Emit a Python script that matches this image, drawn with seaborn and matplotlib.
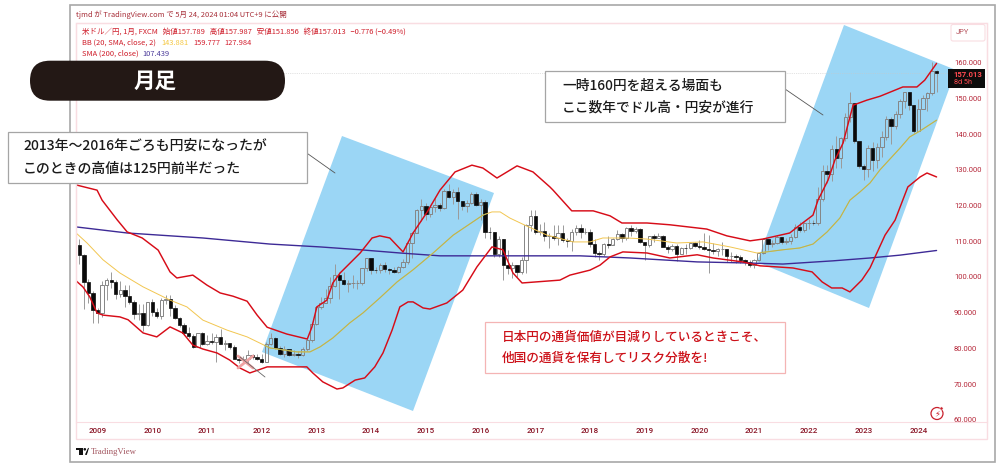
import numpy as np
import pandas as pd
import seaborn as sns
import matplotlib
matplotlib.use("Agg")
import matplotlib.pyplot as plt
from matplotlib.patches import Polygon, Rectangle, FancyBboxPatch, Circle
from matplotlib.lines import Line2D
from matplotlib.transforms import Affine2D

# ---- monthly USD/JPY candles, Sep 2008 - May 2024 ----
first_open = 108.8
closes = [106.0, 98.5, 95.5, 90.6,
          89.9, 97.6, 99.1, 98.6, 95.3, 96.3, 94.7, 93.0, 89.7, 90.0, 86.4, 93.0,
          90.3, 89.0, 93.4, 93.9, 91.2, 88.4, 86.4, 84.2, 83.5, 80.4, 84.3, 81.1,
          82.0, 81.8, 83.1, 81.2, 81.5, 80.5, 77.0, 76.6, 77.0, 78.0, 77.6, 76.9,
          76.3, 81.2, 82.9, 80.0, 78.3, 79.8, 78.1, 78.4, 78.0, 79.8, 82.4, 86.7,
          91.7, 92.6, 94.2, 97.4, 100.5, 99.1, 97.9, 98.2, 98.3, 98.4, 102.4, 105.3,
          102.0, 101.8, 103.2, 102.2, 101.8, 101.3, 102.8, 104.1, 109.6, 112.3, 118.6, 119.8,
          117.5, 119.6, 120.1, 119.4, 124.1, 122.5, 123.9, 121.2, 119.9, 120.6, 123.1, 120.2,
          121.1, 112.7, 112.6, 106.4, 110.7, 103.2, 102.4, 103.4, 101.3, 104.8, 114.5, 117.0,
          112.7, 112.8, 111.4, 111.5, 110.8, 112.4, 110.3, 110.0, 112.5, 113.6, 112.5, 112.7,
          109.2, 106.7, 106.3, 109.3, 108.8, 110.7, 111.9, 111.0, 113.7, 112.9, 113.5, 109.7,
          108.9, 111.4, 110.8, 111.4, 108.3, 107.9, 108.7, 106.3, 108.1, 108.0, 109.5, 108.6,
          108.4, 107.9, 107.5, 107.2, 107.8, 107.9, 105.9, 105.9, 105.5, 104.7, 104.3, 103.3,
          104.7, 106.6, 110.7, 109.3, 109.6, 111.1, 109.7, 110.0, 111.3, 114.0, 113.2, 115.1,
          115.1, 115.0, 121.7, 129.7, 128.7, 135.7, 133.3, 139.0, 144.7, 148.7, 138.0, 131.1,
          130.1, 136.2, 132.8, 136.3, 139.3, 144.3, 142.3, 145.5, 149.4, 151.7, 148.2, 141.0,
          146.9, 150.0, 151.4, 157.8, 157.013]
highs = [110.6, 106.3, 99.5, 96.0,
         91.3, 98.9, 99.8, 101.4, 99.0, 98.9, 97.8, 97.8, 93.4, 92.3, 92.5, 93.1,
         93.8, 91.2, 94.0, 94.8, 94.9, 92.2, 88.9, 87.2, 85.9, 84.0, 84.4, 84.5,
         83.7, 84.2, 83.9, 85.5, 82.2, 81.5, 81.0, 77.9, 77.9, 79.5, 78.3, 78.3,
         78.3, 81.7, 84.2, 83.3, 80.6, 80.6, 79.9, 79.6, 79.2, 80.4, 82.8, 86.6,
         91.8, 94.5, 96.7, 99.9, 103.7, 101.5, 101.5, 99.1, 100.6, 99.0, 102.6, 105.4,
         105.4, 102.7, 103.8, 104.1, 102.4, 102.8, 103.1, 104.9, 109.9, 112.5, 118.9, 121.8,
         120.8, 119.9, 122.0, 120.8, 124.5, 125.9, 124.6, 125.3, 121.3, 121.5, 123.8, 123.7,
         121.7, 121.5, 114.0, 112.0, 111.5, 110.2, 107.5, 104.3, 102.8, 105.5, 114.8, 118.7,
         118.6, 114.9, 115.5, 112.2, 114.4, 114.5, 114.5, 111.0, 113.3, 114.4, 114.7, 113.8,
         113.4, 110.5, 107.3, 109.6, 111.4, 110.9, 113.2, 112.2, 114.0, 114.6, 114.0, 113.7,
         109.9, 111.5, 112.1, 112.4, 111.7, 108.8, 109.3, 109.3, 108.5, 109.3, 109.7, 109.7,
         110.3, 112.2, 111.7, 109.4, 108.1, 109.9, 107.8, 107.0, 106.5, 106.1, 105.0, 104.8,
         105.0, 106.7, 110.9, 110.0, 110.2, 111.7, 110.6, 110.8, 112.1, 114.7, 115.5, 115.3,
         116.3, 115.8, 125.1, 131.3, 131.3, 137.0, 139.4, 139.1, 145.9, 151.9, 148.8, 138.2,
         131.6, 136.9, 137.9, 137.6, 140.9, 145.1, 144.9, 146.6, 149.7, 151.7, 151.9, 148.0,
         149.7, 150.9, 151.9, 160.2, 157.987]
lows = [103.5, 90.9, 92.6, 87.1,
        87.1, 88.9, 93.5, 96.9, 93.9, 94.4, 91.7, 92.5, 88.2, 88.0, 84.8, 86.3,
        89.1, 88.5, 88.1, 92.4, 89.1, 88.1, 85.9, 83.6, 82.9, 80.2, 80.3, 80.9,
        81.0, 81.1, 76.3, 81.2, 79.6, 79.7, 76.9, 75.9, 75.6, 75.7, 76.9, 76.8,
        75.9, 76.1, 80.9, 79.7, 78.0, 77.7, 77.9, 77.9, 77.4, 77.9, 79.3, 81.7,
        86.5, 91.0, 92.6, 92.6, 97.1, 93.8, 97.6, 95.8, 96.9, 96.6, 97.6, 101.6,
        100.7, 101.1, 101.1, 101.3, 100.8, 101.1, 101.1, 102.4, 103.7, 105.2, 112.6, 115.6,
        115.9, 116.9, 118.3, 118.5, 118.9, 122.0, 120.4, 116.2, 118.6, 118.1, 120.3, 119.9,
        115.9, 110.9, 110.7, 105.6, 105.5, 99.0, 100.7, 99.6, 100.1, 100.9, 101.2, 112.9,
        112.1, 111.7, 110.1, 108.1, 110.2, 108.8, 109.9, 108.3, 107.3, 111.6, 110.8, 111.9,
        108.4, 105.6, 104.6, 105.9, 108.1, 109.2, 110.3, 109.8, 110.4, 111.4, 112.3, 109.6,
        104.7, 108.5, 109.7, 110.8, 108.3, 106.8, 107.2, 104.4, 106.5, 106.5, 107.9, 108.4,
        107.7, 107.5, 101.2, 106.4, 105.9, 106.1, 104.2, 104.2, 104.0, 104.0, 103.2, 102.9,
        102.6, 104.4, 106.4, 107.5, 108.5, 109.2, 109.1, 109.1, 109.1, 110.8, 112.5, 112.6,
        113.5, 114.4, 114.6, 121.3, 126.4, 126.9, 130.4, 130.4, 138.0, 143.5, 137.5, 130.6,
        127.2, 128.1, 129.6, 130.6, 133.5, 138.4, 137.2, 141.5, 144.4, 147.3, 146.7, 140.2,
        140.8, 146.9, 146.5, 151.0, 151.856]

# ---- indicator lines (month index, price) ----
upper_m = [-0.5, 3.9, 5.0, 8.3, 10.5, 13.8, 17.3, 19.9, 21.4, 24.9, 28.0, 30.9, 33.7, 36.8, 39.0, 41.2, 45.5,
           50.0, 51.0, 52.1, 54.3, 55.6, 57.2, 61.6, 64.2, 65.9, 68.1, 71.0, 73.2, 76.3, 79.1, 82.4, 86.1,
           88.5, 91.6, 96.0, 99.5, 103.2, 103.9, 108.0, 112.7, 116.4, 119.0, 124.5, 129.5, 137.6, 142.0, 147.1,
           149.9, 155.8, 158.0, 160.9, 162.0, 164.2, 165.7, 167.5, 169.0, 169.7, 172.7, 175.6, 180.6, 183.7,
           185.4, 187.0, 188.0]
upper_v = [125.7, 124.3, 121.5, 116.0, 112.6, 110.9, 107.5, 101.4, 99.7, 100.5, 97.7, 95.5, 94.6, 93.2, 89.3, 85.9, 84.0,
           82.6, 85.9, 91.6, 93.5, 98.3, 101.1, 106.7, 110.9, 111.5, 110.9, 107.0, 112.3, 118.2, 124.3, 129.4, 131.3,
           130.5, 127.7, 131.1, 129.4, 125.2, 124.3, 118.5, 118.5, 117.1, 115.1, 115.1, 114.6, 113.4, 111.5, 110.1,
           110.6, 112.3, 114.5, 117.3, 121.5, 127.1, 132.7, 137.5, 144.8, 148.1, 149.5, 150.6, 153.2, 153.2,
           155.1, 158.0, 159.8]
lower_m = [-0.7, 0.8, 2.3, 3.9, 5.2, 8.9, 10.7, 14.0, 17.0, 19.9, 22.7, 24.9, 27.1, 30.2, 33.0, 35.2, 37.4, 41.2, 44.7,
           49.9, 51.2, 53.4, 56.5, 57.8, 60.5, 62.6, 64.8, 66.6, 68.6, 70.3, 72.1, 73.2, 75.4, 76.9, 80.6, 84.1,
           87.2, 90.5, 92.9, 95.1, 97.1, 105.4, 107.6, 112.0, 114.2, 116.4, 119.2, 124.5, 129.5, 135.5, 139.0,
           145.5, 149.3, 153.0, 156.5, 160.7, 162.9, 165.0, 167.3, 169.0, 171.6, 173.4, 176.7, 178.9, 181.7,
           184.4, 185.9, 188.0]
lower_v = [98.9, 97.2, 94.4, 89.9, 89.3, 88.8, 88.0, 84.3, 83.2, 86.0, 84.3, 80.9, 79.8, 78.7, 76.7, 74.5, 73.1, 74.8, 74.8,
           74.8, 73.1, 70.6, 68.6, 68.9, 71.1, 71.7, 74.8, 78.7, 85.1, 91.6, 93.0, 93.0, 91.3, 91.0, 92.7, 96.3,
           102.8, 108.4, 107.6, 101.1, 98.3, 99.1, 100.5, 101.9, 103.3, 105.6, 107.0, 106.7, 105.3, 106.2, 105.3,
           104.2, 103.1, 102.8, 102.5, 101.4, 98.6, 96.9, 96.9, 95.8, 99.1, 102.5, 111.7, 115.9, 125.2,
           128.0, 129.1, 128.0]
basis_m = [-0.7, 1.7, 5.2, 8.9, 14.0, 19.9, 23.6, 27.1, 32.4, 36.8, 41.8, 47.7, 50.6, 52.8, 55.6, 59.3, 62.2, 65.9,
           69.7, 73.2, 77.6, 82.0, 88.5, 90.5, 92.3, 94.4, 98.2, 102.6, 108.3, 112.0, 114.8, 120.1, 124.5, 131.0,
           136.8, 142.7, 148.6, 150.7, 154.3, 158.0, 160.9, 164.0, 166.8, 169.0, 171.2, 173.4, 175.6, 180.0,
           182.1, 184.4, 188.0]
basis_v = [112.3, 109.5, 104.8, 101.1, 97.2, 93.5, 91.6, 87.9, 85.1, 83.2, 80.1, 79.0, 79.0, 80.4, 82.9, 87.1, 89.9, 94.1,
           98.6, 102.0, 106.7, 111.7, 117.3, 118.2, 118.2, 116.5, 114.2, 111.7, 109.8, 109.8, 110.9, 110.9, 110.6, 109.5,
           109.8, 108.4, 106.7, 107.0, 107.6, 108.1, 109.2, 112.6, 116.5, 121.5, 123.8, 126.3, 130.0, 136.1,
           139.2, 140.9, 143.9]
sma200_m = [-0.7, 10.5, 27.1, 41.8, 52.8, 61.6, 70.3, 79.1, 109.8, 120.8, 135.5, 146.4, 154.3, 165.3, 173.4, 180.0, 188.0]
sma200_v = [114.0, 112.3, 110.9, 109.2, 108.4, 107.6, 106.7, 105.9, 105.9, 105.3, 104.2, 103.9, 103.6, 104.5, 105.3, 106.1, 107.4]

year_ticks = [4, 16, 28, 40, 52, 64, 76, 88, 100, 112, 124, 136, 148, 160, 172, 184]
year_labels = [str(y) for y in range(2009, 2025)]
price_ticks = list(range(60, 170, 10))
price_labels = [f"{p}.000" for p in price_ticks]

title_pill = "月足"
header_line = "tjmd が TradingView.com で 5月 24, 2024 01:04 UTC+9 に公開"
ohlc_line = "米ドル／円, 1月, FXCM   始値157.789   高値157.987   安値151.856   終値157.013   −0.776 (−0.49%)"
note_left = ["2013年～2016年ごろも円安になったが", "このときの高値は125円前半だった"]
note_right = ["一時160円を超える場面も", "ここ数年でドル高・円安が進行"]
note_red = ["日本円の通貨価値が目減りしているときこそ、", "他国の通貨を保有してリスク分散を!"]

sns.set_theme(style="white")
plt.rcParams['font.family'] = ['Noto Sans CJK JP', 'DejaVu Sans']

fig = plt.figure(figsize=(10, 4.68), dpi=100, facecolor="white")
W, H = 1000, 468
ax = fig.add_axes([76 / W, 1 - 422 / H, (987 - 76) / W, (422 - 22.7) / H], facecolor="none")
ax.set_xlim(-0.72, 199.06)
ax.set_ylim(59.36, 171.2)
px = Affine2D().scale(1 / W, -1 / H).translate(0, 1) + fig.transFigure

# frames
PINK = "#f9dde2"
fig.add_artist(Rectangle((70, 5), 925, 456.5, transform=px, fc="none", ec="#a8a8a8", lw=1.2))
fig.add_artist(Rectangle((76, 22.7), 911, 416.3, transform=px, fc="none", ec=PINK, lw=1))
for s in ax.spines.values():
    s.set_color(PINK)
    s.set_linewidth(0.8)

# blue zones
zones = []
for pts in ([(342, 136), (494, 193), (413, 411), (262, 352)],
            [(844, 25), (956, 70), (869, 308), (757, 262)]):
    p = Polygon(pts, closed=True, transform=px, fc="#9bd6f5", ec="none", zorder=1, clip_on=False)
    ax.add_patch(p)
    zones.append(p)

# candles
x = np.arange(len(closes))
c = np.array(closes)
o = np.array([first_open] + closes[:-1])
h = np.array(highs)
l = np.array(lows)
top, bot = np.maximum(o, c), np.minimum(o, c)
up = c >= o
ax.vlines(x, top, h, color="#9a9a9a", lw=0.7, zorder=3)
ax.vlines(x, l, bot, color="#9a9a9a", lw=0.7, zorder=3)
ax.bar(x[up], (top - bot)[up], bottom=bot[up], width=0.74, fc="#ffffff00", ec="#858585", lw=0.7, zorder=3)
ax.bar(x[~up], (top - bot)[~up], bottom=bot[~up], width=0.74, fc="#0a0a0a", ec="#0a0a0a", lw=0.5, zorder=3)

# last-price dotted line
ax.hlines(157.013, -0.7, 190.5, color="#c8c8c8", lw=0.5, ls=":", zorder=2)

# indicator lines via seaborn
def draw(mx, vy, color, lw, z):
    df = pd.DataFrame({"m": mx, "v": vy})
    sns.lineplot(data=df, x="m", y="v", color=color, lw=lw, ax=ax, sort=False,
                 estimator=None, legend=False, zorder=z)
    return ax.lines[-1]

draw(sma200_m, sma200_v, "#3d2a96", 1.0, 4)
draw(basis_m, basis_v, "#f2c650", 0.7, 4)
for zone in zones:
    ln = draw(basis_m, basis_v, "#b5b455", 0.75, 4.1)
    ln.set_clip_path(zone)
draw(upper_m, upper_v, "#d70c18", 1.05, 5)
draw(lower_m, lower_v, "#d70c18", 1.05, 5)

# axes ticks
ax.set_xlabel("")
ax.set_ylabel("")
ax.yaxis.tick_right()
ax.set_yticks(price_ticks)
ax.set_yticklabels(price_labels, fontsize=5.5, color="#b52638", family="Roboto")
ax.set_xticks(year_ticks)
ax.set_xticklabels(year_labels, fontsize=5.8, color="#8a1526", family="Roboto", fontweight="medium")
ax.tick_params(axis="y", length=0, pad=-23.8, labelright=True)
ax.tick_params(axis="x", length=0, pad=4.5)
for tl in ax.get_yticklabels():
    tl.set_clip_box(ax.bbox)
    tl.set_clip_on(True)

# X mark and dark trend stroke
for seg in ([(238, 356), (253, 368)], [(238, 368), (253, 356)]):
    fig.add_artist(Line2D(*zip(*seg), transform=px, color="#f0a3a3", lw=2.0, zorder=6))
fig.add_artist(Line2D([240, 265], [357, 377], transform=px, color="#666666", lw=0.6, zorder=6))

# legend texts
def t(xp, yp, s, size=5.0, color="#b5202a", **kw):
    kw.setdefault("va", "center")
    kw.setdefault("ha", "left")
    return fig.text(xp, yp, s, transform=px, fontsize=size, color=color, zorder=10, **kw)

t(76, 15, header_line, 5.4, "#a8303a")
t(82, 32, ohlc_line, 5.4, "#cf1d2a")
t(82, 43, "BB (20, SMA, close, 2)", 5.4, "#cf1d2a")
t(161, 43, "143.881", 5.4, "#f5c842")
t(193, 43, "159.777", 5.4, "#d42030")
t(224, 43, "127.984", 5.4, "#d42030")
t(82, 54, "SMA (200, close)", 5.4, "#cf1d2a")
t(142, 54, "107.439", 5.4, "#4a3a9a")

# JPY box & price tag
fig.add_artist(FancyBboxPatch((951, 24.5), 34, 16.5, boxstyle="round,pad=0,rounding_size=2", transform=px,
                              fc="white", ec=PINK, lw=0.8, zorder=7))
fig.text(962.5, 33, "JPY", transform=px, fontsize=5.4, color="#b5505a", ha="center", va="center", family="Roboto", zorder=10)
fig.add_artist(Rectangle((948, 69), 37, 19, transform=px, fc="#0c0c0c", ec="none", zorder=7))
fig.text(968, 74.5, "157.013", transform=px, fontsize=5.6, color="#ff4a50", ha="center", va="center", family="Roboto", fontweight="bold", zorder=10)
fig.text(963, 83, "8d 5h", transform=px, fontsize=5.2, color="#ff4a50", ha="center", va="center", family="Roboto", zorder=10)

# pill
fig.add_artist(FancyBboxPatch((30, 60.7), 255, 40, boxstyle="round,pad=0,rounding_size=20", transform=px,
                              fc="#231815", ec="none", zorder=8))
t(155, 81.5, title_pill, 15.5, "white", ha="center", fontweight="bold")

# note boxes
def note(x0, y0, x1, y1, lines, tx, ys, size, color, edge):
    fig.add_artist(Rectangle((x0, y0), x1 - x0, y1 - y0, transform=px, fc="white", ec=edge, lw=0.9, zorder=8))
    for s, yy in zip(lines, ys):
        t(tx, yy, s, size, color, fontweight="medium")

note(7.5, 132, 306.7, 183, note_left, 23, (146, 169), 10, "#1a1a1a", "#a5a5a5")
note(545, 71, 785, 122, note_right, 562, (86, 108), 9.9, "#1a1a1a", "#a5a5a5")
note(485, 322, 785, 373, note_red, 502, (337, 358), 9.1, "#cc1018", "#f4b4b4")
fig.add_artist(Line2D([306.7, 335], [153, 173], transform=px, color="#555555", lw=0.6, zorder=7))
fig.add_artist(Line2D([785, 823], [89, 115], transform=px, color="#555555", lw=0.6, zorder=7))

# flash icon
fig.add_artist(Circle((937, 413.5), 6, transform=px, fc="white", ec="#c9202c", lw=0.9, zorder=7))
fig.add_artist(Circle((941.5, 408.5), 1.6, transform=px, fc="#c9202c", ec="white", lw=0.4, zorder=7.5))
fig.text(937, 413.5, "⚡", transform=px, fontsize=6, color="#c9202c", ha="center", va="center", family="DejaVu Sans", zorder=10)

# TradingView logo
fig.add_artist(Rectangle((76, 448), 6.5, 2.4, transform=px, fc="#111111", ec="none", zorder=7))
fig.add_artist(Rectangle((79, 448), 3.5, 6.5, transform=px, fc="#111111", ec="none", zorder=7))
fig.add_artist(Circle((84.8, 449.3), 1.3, transform=px, fc="#111111", ec="none", zorder=7))
fig.add_artist(Polygon([(85.5, 454.5), (88.5, 448), (86.5, 454.5)], transform=px, fc="#111111", ec="#111111", lw=0.6, zorder=7))
fig.text(91, 451.5, "TradingView", transform=px, fontsize=6.3, color="#a2555f", ha="left", va="center", family="Liberation Serif", zorder=10)

fig.savefig("out.png", dpi=100)
